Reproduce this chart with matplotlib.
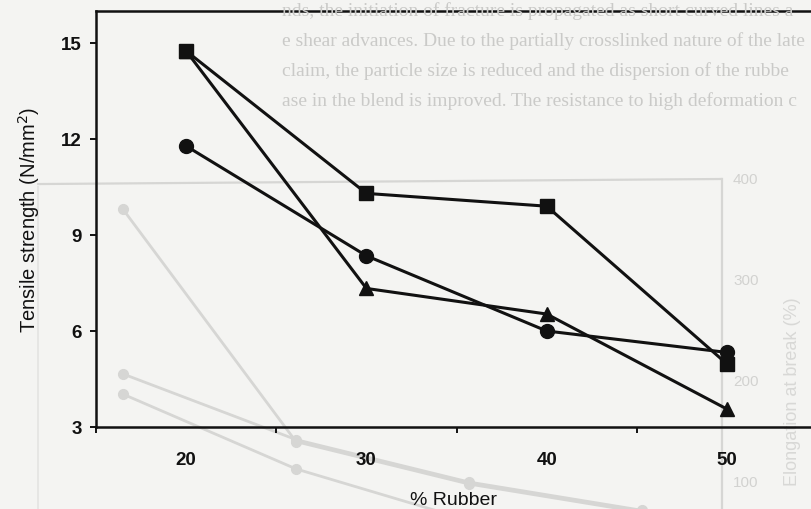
import matplotlib
matplotlib.use("Agg")
import matplotlib.pyplot as plt
from matplotlib.ticker import FixedLocator

# Tensile strength (N/mm^2) versus rubber content
rubber = [20, 30, 40, 50]
ts_square = [14.75, 10.3, 9.9, 4.97]
ts_triangle = [14.75, 7.33, 6.53, 3.56]
ts_circle = [11.78, 8.35, 6.0, 5.33]

y_ticks = [3, 6, 9, 12, 15]
x_labels = [20, 30, 40, 50]
x_marks = [15, 25, 35, 45]

# faint show-through from the reverse side of the printed page
back_rubber = [50, 40, 30, 20]
back_triangle = [370, 140, 98, 70]
back_circle = [207, 142, 100, 72]
back_square = [187, 113, 62, 35]
back_ticks = [100, 200, 300, 400]
back_text = [
    "nds, the initiation of fracture is propagated as short curved lines a",
    "e shear advances. Due to the partially crosslinked nature of the late",
    "claim, the particle size is reduced and the dispersion of the rubbe",
    "ase in the blend is improved. The resistance to high deformation c",
]

W, H = 811, 510
paper = "#f4f4f2"
ink = "#111111"
ghost = "#d6d6d4"

fig = plt.figure(figsize=(W / 100, H / 100), dpi=100, facecolor=paper)
plt.rcParams["font.family"] = ["Liberation Sans", "DejaVu Sans"]

# --- back-page layer -------------------------------------------------------
gx = fig.add_axes([0, 0, 1, 1], zorder=0)
gx.set_facecolor(paper)
gx.set_xlim(57.11, 10.23)
gx.set_ylim(73.3, 578.2)
gx.axis("off")
for vals in (back_triangle, back_circle, back_square):
    gx.plot(back_rubber, vals, color=ghost, lw=2.0, marker="o", ms=7,
            mec=ghost, mfc=ghost, clip_on=True)
gx.plot([54.9, 15.4], [395, 400], color=ghost, lw=1.6)
gx.plot([15.4, 15.4], [400, 60], color=ghost, lw=1.6)
gx.plot([54.9, 54.9], [392, 60], color="#e6e6e4", lw=1.4)
for t in back_ticks:
    gx.text(14.0, t, str(t), color="#d2d2d0", fontsize=11, ha="center",
            va="center")
gx.text(11.3, 190, "Elongation at break (%)", color="#d8d8d6", fontsize=13,
        rotation=90, ha="center", va="center")
for i, line in enumerate(back_text):
    fig.text(282 / W, 1 - (11 + 30 * i) / H, line, color="#cacac8",
             fontsize=14, family=["Liberation Serif", "DejaVu Serif"],
             ha="left", va="center")

# --- main chart ------------------------------------------------------------
ax = fig.add_axes([96 / W, (H - 428) / H, (W - 96) / W, 416 / H], zorder=2)
ax.patch.set_alpha(0)

ax.plot(rubber, ts_square, color=ink, lw=2.2, marker="s", ms=9.5,
        mfc=ink, mec=ink, clip_on=False, zorder=3)
ax.plot(rubber, ts_triangle, color=ink, lw=2.2, marker="^", ms=10,
        mfc=ink, mec=ink, clip_on=False, zorder=3)
ax.plot(rubber, ts_circle, color=ink, lw=2.2, marker="o", ms=10,
        mfc=ink, mec=ink, clip_on=False, zorder=4)

ax.set_xlim(15, 54.66)
ax.set_ylim(3, 16)

for side in ("left", "top", "bottom"):
    ax.spines[side].set_linewidth(1.8)
    ax.spines[side].set_color(ink)
ax.spines["right"].set_visible(False)

ax.set_yticks(y_ticks)
ax.set_xticks(x_labels)
ax.xaxis.set_minor_locator(FixedLocator(x_marks))
ax.tick_params(axis="y", direction="out", length=4, width=1.4, pad=6,
               labelsize=13.5, colors=ink)
ax.tick_params(axis="x", which="major", length=0, pad=17, labelsize=13.5,
               colors=ink)
ax.tick_params(axis="x", which="minor", direction="out", length=4, width=1.4,
               colors=ink)
for lab in ax.get_xticklabels() + ax.get_yticklabels():
    lab.set_fontweight("bold")

ax.set_xlabel("% Rubber", fontsize=14, color=ink, labelpad=17)
ax.set_ylabel("Tensile strength (N/mm$^2$)", fontsize=14.5, color=ink,
              labelpad=14)

fig.savefig("out.png", dpi=100, facecolor=paper)
